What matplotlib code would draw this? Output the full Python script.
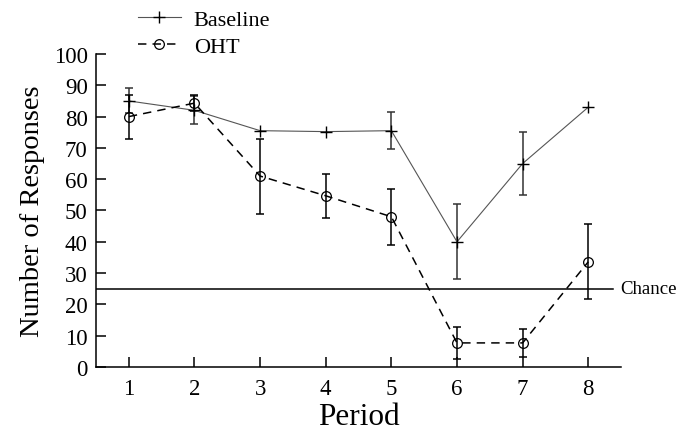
import numpy as np
import matplotlib
matplotlib.use("Agg")
import matplotlib.pyplot as plt

plt.rcParams['font.family'] = ['Liberation Serif', 'DejaVu Serif']

periods = [1, 2, 3, 4, 5, 6, 7, 8]
baseline = [85, 82, 75.5, 75.2, 75.5, 40, 65, 83]
baseline_err = [4, 4.5, 0, 0, 6, 12, 10, 0]
oht = [80, 84.3, 61, 54.7, 48, 7.7, 7.7, 33.6]
oht_err = [7, 2.5, 12, 7, 9, 5, 4.5, 12]
chance = 25

fig = plt.figure(figsize=(6.81, 4.35), dpi=100)
ax = fig.add_axes([0.141, 0.154, 0.771, 0.7196])

x = np.array(periods)

# error bars (skip points without visible error)
b_err = np.array(baseline_err)
m = b_err > 0
ax.errorbar(x[m], np.array(baseline)[m], yerr=b_err[m], fmt='none',
            ecolor='#333333', elinewidth=1.1, capsize=3.2, capthick=1.1)
o_err = np.array(oht_err)
ax.errorbar(x, oht, yerr=o_err, fmt='none',
            ecolor='black', elinewidth=1.1, capsize=3.2, capthick=1.1)

ax.plot(x, baseline, color='#555555', linewidth=0.8, marker='+',
        markersize=8, markeredgewidth=1.0, markeredgecolor='black',
        label='Baseline')
ax.plot(x, oht, color='black', linewidth=1.1, linestyle=(0, (5.5, 4)),
        marker='o', markersize=7, markerfacecolor='none',
        markeredgecolor='black', markeredgewidth=0.9, label='OHT')

# chance line
ax.plot([0.5, 8.38], [chance, chance], color='black', linewidth=1.1)
ax.text(8.48, chance, 'Chance', fontsize=13.5, va='center', ha='left',
        clip_on=False)

ax.set_xlim(0.5, 8.5)
ax.set_ylim(0, 100)
ax.set_xticks(periods)
ax.set_yticks(range(0, 101, 10))
ax.tick_params(direction='in', length=7, width=1.1, labelsize=16.5)
ax.tick_params(axis='x', pad=8)
ax.tick_params(axis='y', pad=6)
for s in ['top', 'right']:
    ax.spines[s].set_visible(False)
for s in ['left', 'bottom']:
    ax.spines[s].set_linewidth(1.1)

ax.set_xlabel('Period', fontsize=22.5, labelpad=2)
ax.set_ylabel('Number of Responses', fontsize=20.5, labelpad=6)

fig.legend(loc='upper left', bbox_to_anchor=(0.19, 0.997), frameon=False,
           fontsize=16, handlelength=1.9, handletextpad=0.6,
           labelspacing=0.3, numpoints=1, borderaxespad=0)

fig.savefig('out.png', dpi=100)
